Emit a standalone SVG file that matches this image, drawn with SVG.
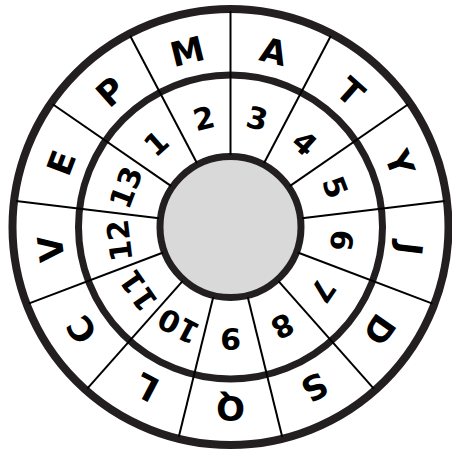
<svg xmlns="http://www.w3.org/2000/svg" width="452" height="453" viewBox="0 0 452 453">
<style>
.ring{fill:none;stroke:#231f20}
.spoke{stroke:#000;stroke-width:2}
.let{font-family:"DejaVu Sans","Liberation Sans",sans-serif;font-weight:bold;font-size:34px;text-anchor:middle;fill:#000}
.num{font-family:"DejaVu Sans","Liberation Sans",sans-serif;font-weight:bold;font-size:30px;text-anchor:middle;fill:#000}
</style>
<rect width="452" height="453" fill="#fff"/>
<g id="hub">
<circle cx="230.5" cy="227" r="70.5" fill="#d9d9d9" stroke="#231f20" stroke-width="7"/>
</g>
<g id="rings">
<circle class="ring" cx="230.5" cy="227" r="152" stroke-width="7"/>
<circle class="ring" cx="230.5" cy="227" r="218" stroke-width="8"/>
</g>
<g id="connectors" transform="translate(230.5,227)">
<line class="spoke" x1="0" y1="-72" x2="0" y2="-216" transform="rotate(0)"/>
<line class="spoke" x1="0" y1="-72" x2="0" y2="-216" transform="rotate(27.6923)"/>
<line class="spoke" x1="0" y1="-72" x2="0" y2="-216" transform="rotate(55.3846)"/>
<line class="spoke" x1="0" y1="-72" x2="0" y2="-216" transform="rotate(83.0769)"/>
<line class="spoke" x1="0" y1="-72" x2="0" y2="-216" transform="rotate(110.7692)"/>
<line class="spoke" x1="0" y1="-72" x2="0" y2="-216" transform="rotate(138.4615)"/>
<line class="spoke" x1="0" y1="-72" x2="0" y2="-216" transform="rotate(166.1538)"/>
<line class="spoke" x1="0" y1="-72" x2="0" y2="-216" transform="rotate(193.8462)"/>
<line class="spoke" x1="0" y1="-72" x2="0" y2="-216" transform="rotate(221.5385)"/>
<line class="spoke" x1="0" y1="-72" x2="0" y2="-216" transform="rotate(249.2308)"/>
<line class="spoke" x1="0" y1="-72" x2="0" y2="-216" transform="rotate(276.9231)"/>
<line class="spoke" x1="0" y1="-72" x2="0" y2="-216" transform="rotate(304.6154)"/>
<line class="spoke" x1="0" y1="-72" x2="0" y2="-216" transform="rotate(332.3077)"/>
</g>
<g id="letters" transform="translate(230.5,227)">
<g id="seg-A"><text class="let" transform="rotate(13.846) translate(0,-181)" dy="0.36em">A</text></g>
<g id="seg-T"><text class="let" transform="rotate(41.538) translate(0,-181)" dy="0.36em">T</text></g>
<g id="seg-Y"><text class="let" transform="rotate(69.231) translate(0,-181)" dy="0.36em">Y</text></g>
<g id="seg-J"><text class="let" transform="rotate(96.923) translate(0,-181)" dy="0.36em">J</text></g>
<g id="seg-D"><text class="let" transform="rotate(124.615) translate(0,-181)" dy="0.36em">D</text></g>
<g id="seg-S"><text class="let" transform="rotate(152.308) translate(0,-181)" dy="0.36em">S</text></g>
<g id="seg-Q"><text class="let" transform="rotate(180) translate(0,-181)" dy="0.36em">Q</text></g>
<g id="seg-L"><text class="let" transform="rotate(207.692) translate(0,-181)" dy="0.36em">L</text></g>
<g id="seg-C"><text class="let" transform="rotate(235.385) translate(0,-181)" dy="0.36em">C</text></g>
<g id="seg-V"><text class="let" transform="rotate(263.077) translate(0,-181)" dy="0.36em">V</text></g>
<g id="seg-E"><text class="let" transform="rotate(290.769) translate(0,-181)" dy="0.36em">E</text></g>
<g id="seg-P"><text class="let" transform="rotate(318.462) translate(0,-181)" dy="0.36em">P</text></g>
<g id="seg-M"><text class="let" transform="rotate(346.154) translate(0,-181)" dy="0.36em">M</text></g>
</g>
<g id="numbers" transform="translate(230.5,227)">
<g id="num-3"><text class="num" transform="rotate(13.846) translate(0,-112)" dy="0.36em">3</text></g>
<g id="num-4"><text class="num" transform="rotate(41.538) translate(0,-112)" dy="0.36em">4</text></g>
<g id="num-5"><text class="num" transform="rotate(69.231) translate(0,-112)" dy="0.36em">5</text></g>
<g id="num-6"><text class="num" transform="rotate(96.923) translate(0,-112)" dy="0.36em">6</text></g>
<g id="num-7"><text class="num" transform="rotate(124.615) translate(0,-112)" dy="0.36em">7</text></g>
<g id="num-8"><text class="num" transform="rotate(152.308) translate(0,-112)" dy="0.36em">8</text></g>
<g id="num-9"><text class="num" transform="rotate(180) translate(0,-112)" dy="0.36em">9</text></g>
<g id="num-10"><text class="num" transform="rotate(207.692) translate(0,-112)" dy="0.36em">10</text></g>
<g id="num-11"><text class="num" transform="rotate(235.385) translate(0,-112)" dy="0.36em">11</text></g>
<g id="num-12"><text class="num" transform="rotate(263.077) translate(0,-112)" dy="0.36em">12</text></g>
<g id="num-13"><text class="num" transform="rotate(290.769) translate(0,-112)" dy="0.36em">13</text></g>
<g id="num-1"><text class="num" transform="rotate(318.462) translate(0,-112)" dy="0.36em">1</text></g>
<g id="num-2"><text class="num" transform="rotate(346.154) translate(0,-112)" dy="0.36em">2</text></g>
</g>
</svg>
